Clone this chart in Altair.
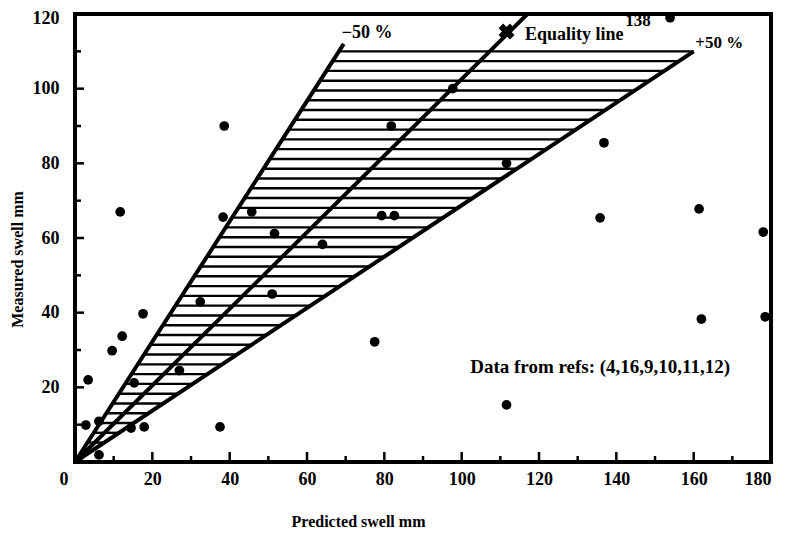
import altair as alt
import pandas as pd
import numpy as np

# ---- data ----
pred = [2.8, 3.4, 6.2, 6.2, 9.6, 12.2, 11.7, 14.5, 15.3, 17.6, 17.9, 27.0, 32.4, 37.5,
        38.3, 38.6, 45.7, 51.0, 51.6, 64.0, 77.5, 79.3, 82.6, 81.8, 97.7, 111.6,
        111.6, 135.8, 136.8, 153.9, 161.4, 162.0, 178.0, 178.5]
meas = [9.9, 22.0, 10.9, 1.9, 29.8, 33.7, 67.0, 9.1, 21.2, 39.7, 9.4, 24.5, 42.9, 9.4,
        65.6, 90.0, 67.0, 45.0, 61.2, 58.3, 32.2, 66.0, 66.0, 90.0, 100.0, 80.0,
        15.3, 65.4, 85.5, 119.0, 67.8, 38.3, 61.6, 38.9]

line_names = ["-50%", "-50%", "equality", "equality", "+50%", "+50%"]
line_x = [0, 69.5, 0, 117, 0, 160]
line_y = [0, 112, 0, 120, 0, 110]

marker_x = [111.6]
marker_y = [115.3]

x_ticks = [0, 20, 40, 60, 80, 100, 120, 140, 160, 180]
y_ticks = [20, 40, 60, 80, 100, 120]
x_major = [20, 40, 60, 80, 100, 120, 140, 160]
x_minor = [10, 30, 50, 70, 90, 110, 130, 150, 170]
y_major = [20, 40, 60, 80, 100]
y_minor = [10, 30, 50, 70, 90, 110]

labels = ["\u221250 %", "+50 %", "Equality line", "138", "Data from refs: (4,16,9,10,11,12)"]
label_x = [69.0, 160.4, 116.4, 142.3, 102.2]
label_y = [115.0, 112.2, 114.4, 118.0, 25.4]
label_size = [18, 17, 18, 17, 19]

# hatch (decorative pattern between the two bounds)
low_slope = line_y[1] / line_x[1]
high_slope = line_y[5] / line_x[5]
hatch_y = np.arange(110, 0.5, -2.62)

FONT = "Liberation Serif"
W, H = 696, 448

pts = pd.DataFrame({"x": pred, "y": meas})
lines = pd.DataFrame({"line": line_names, "x": line_x, "y": line_y})
hatch = pd.DataFrame({"y": hatch_y, "x1": hatch_y / low_slope, "x2": hatch_y / high_slope})
mk = pd.DataFrame({"x": marker_x, "y": marker_y})
txt = pd.DataFrame({"t": labels, "x": label_x, "y": label_y, "s": label_size})

xs = alt.Scale(domain=[0, 180], nice=False, zero=False)
ys = alt.Scale(domain=[0, 120], nice=False, zero=False)

xaxis = alt.Axis(values=x_ticks, grid=False, domain=False, ticks=False, tickSize=0,
                 labelFont=FONT, labelFontWeight="bold", labelFontSize=18, labelColor="black",
                 labelPadding=8,
                 labelOffset={"condition": {"test": "datum.value == 0", "value": -16}, "value": 0},
                 title="Predicted swell mm", titleFont=FONT, titleFontWeight="bold",
                 titleFontSize=16, titleColor="black", titleX=283, titleY=64,
                 titleBaseline="alphabetic", titleAlign="center")
yaxis = alt.Axis(values=y_ticks, grid=False, domain=False, ticks=False, tickSize=0,
                 labelFont=FONT, labelFontWeight="bold", labelFontSize=18, labelColor="black",
                 labelPadding=16,
                 labelOffset={"condition": {"test": "datum.value == 120", "value": 4}, "value": 0},
                 title="Measured swell mm", titleFont=FONT, titleFontWeight="bold",
                 titleFontSize=16, titleColor="black", titleX=-58, titleY=245,
                 titleBaseline="middle", titleAlign="center", titleAngle=270)

base_x = alt.X("x:Q", scale=xs, axis=xaxis)
base_y = alt.Y("y:Q", scale=ys, axis=yaxis)

hatch_layer = alt.Chart(hatch).mark_rule(color="black", strokeWidth=2.4).encode(
    x=alt.X("x1:Q", scale=xs, axis=xaxis), x2="x2:Q", y=alt.Y("y:Q", scale=ys, axis=yaxis))

line_layer = alt.Chart(lines).mark_line(color="black", strokeWidth=4).encode(
    x=base_x, y=base_y, detail="line:N")

pt_layer = alt.Chart(pts).mark_circle(color="black", opacity=1, size=95, clip=True).encode(
    x=base_x, y=base_y)

mk_layer = alt.Chart(mk).mark_point(shape="cross", angle=45, filled=True, color="black",
                                    opacity=1, size=260).encode(x=base_x, y=base_y)

txt_layer = alt.Chart(txt).mark_text(font=FONT, fontWeight="bold", color="black",
                                     align="left", baseline="middle").encode(
    x=base_x, y=base_y, text="t:N", size=alt.Size("s:Q", scale=None, legend=None))

xt_major = alt.Chart(pd.DataFrame({"x": x_major})).mark_rule(color="black", strokeWidth=2.5).encode(
    x=base_x, y=alt.value(H), y2=alt.value(H - 10))
xt_minor = alt.Chart(pd.DataFrame({"x": x_minor})).mark_rule(color="black", strokeWidth=2.5).encode(
    x=base_x, y=alt.value(H), y2=alt.value(H - 6))
yt_major = alt.Chart(pd.DataFrame({"y": y_major})).mark_rule(color="black", strokeWidth=2.5).encode(
    y=base_y, x=alt.value(0), x2=alt.value(9))
yt_minor = alt.Chart(pd.DataFrame({"y": y_minor})).mark_rule(color="black", strokeWidth=2.5).encode(
    y=base_y, x=alt.value(0), x2=alt.value(6))

chart = alt.layer(hatch_layer, line_layer, pt_layer, mk_layer, txt_layer,
                  xt_major, xt_minor, yt_major, yt_minor).properties(
    width=W, height=H,
    autosize=alt.AutoSizeParams(type="none"),
    padding={"left": 67, "top": 6, "right": 21, "bottom": 67},
    background="white",
).configure_view(stroke="black", strokeWidth=4)

chart.save("out.html", embed_options={"renderer": "svg", "actions": False})
